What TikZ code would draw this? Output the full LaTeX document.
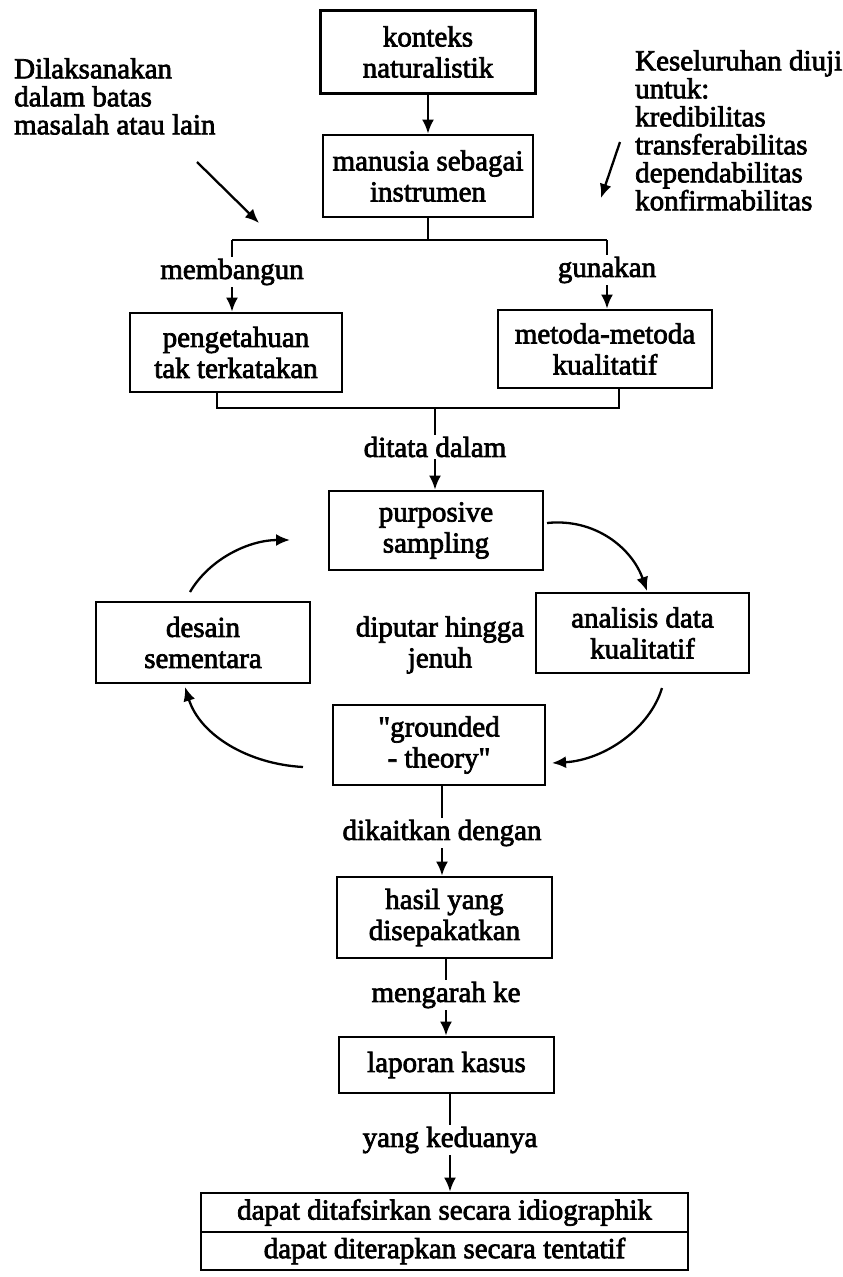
\documentclass[tikz,border=0pt]{standalone}
\usepackage{fontspec}
\setmainfont{Liberation Serif}[Ligatures=TeXOff, FakeBold=2.5]
\usetikzlibrary{arrows.meta,calc}

\begin{document}
\begin{tikzpicture}[x=1pt,y=-1pt,
  every node/.style={font=\fontsize{29}{31}\selectfont},
  box/.style={draw, line width=2.8pt, align=center, inner sep=0pt},
  lbl/.style={inner sep=2pt, align=center},
  side/.style={anchor=north west, inner sep=0pt, align=left,
               font=\fontsize{29}{28}\selectfont},
  link/.style={line width=2.3pt},
  arr/.style={link, -{Latex[length=14pt,width=12pt]}},
]
\useasboundingbox (0,0) rectangle (843,1277);

% main boxes
\node[box, minimum width=215pt, minimum height=83pt] (b1) at (428,52) {konteks\\naturalistik};
\node[box, minimum width=210pt, minimum height=82pt] (b2) at (428,176) {manusia sebagai\\instrumen};
\node[box, minimum width=212pt, minimum height=79pt] (b3) at (236,352.5) {pengetahuan\\tak terkatakan};
\node[box, minimum width=214pt, minimum height=78pt] (b4) at (605,349) {metoda-metoda\\kualitatif};
\node[box, minimum width=214pt, minimum height=79pt] (b5) at (436,530.5) {purposive\\sampling};
\node[box, minimum width=214pt, minimum height=81pt] (b6) at (203,642.5) {desain\\sementara};
\node[box, minimum width=213pt, minimum height=80pt] (b7) at (642.5,633) {analisis data\\kualitatif};
\node[box, minimum width=212pt, minimum height=80pt] (b8) at (439,745) {"grounded\\- theory"};
\node[box, minimum width=215pt, minimum height=81pt] (b9) at (444.5,917.5) {hasil yang\\disepakatkan};
\node[box, minimum width=215pt, minimum height=56pt] (b10) at (446.5,1065) {laporan kasus};
\node[box, minimum width=487pt, minimum height=39pt] (b11a) at (444.5,1212.5) {dapat ditafsirkan secara idiographik};
\node[box, minimum width=487pt, minimum height=38pt] (b11b) at (444.5,1251) {dapat diterapkan secara tentatif};

% side notes
\node[side] (lt) at (14,58) {Dilaksanakan\\dalam batas\\masalah atau lain};
\node[side] (rt) at (635,50) {Keseluruhan diuji\\untuk:\\kredibilitas\\transferabilitas\\dependabilitas\\konfirmabilitas};
\coordinate (dl1) at (197,162);
\coordinate (dl2) at (259,223);
\coordinate (dr1) at (620,142);
\coordinate (dr2) at (601,198);
\draw[arr] (dl1) -- (dl2);
\draw[arr] (dr1) -- (dr2);

% top flow
\draw[arr] (b1) -- (b2);
\coordinate (spL) at (232,240);
\coordinate (spR) at (607,240);
\draw[link] (b2.south) -- (b2.south |- spL);
\draw[link] (spL) -- (spR);
\node[lbl] (lm) at (232,272) {membangun};
\node[lbl] (lg) at (607,270) {gunakan};
\draw[link] (spL) -- (lm.north);
\draw[arr] (lm.south) -- (lm.south |- b3.north);
\draw[link] (spR) -- (lg.north);
\draw[arr] (lg.south) -- (lg.south |- b4.north);

% merge into sampling
\coordinate (mL) at (217,408);
\coordinate (mR) at (619,408);
\draw[link] (b3.south -| mL) -- (mL) -- (mR) -- (b4.south -| mR);
\node[lbl] (ld) at (435,447) {ditata dalam};
\draw[link] (ld.north |- mL) -- (ld.north);
\draw[arr] (ld.south) -- (ld.south |- b5.north);

% cycle
\node[lbl] (dj) at (440,645) {diputar hingga\\jenuh};
\coordinate (c1s) at (547,523);
\coordinate (c1e) at (647,591);
\coordinate (c2s) at (662,688);
\coordinate (c2e) at (552,763);
\coordinate (c3s) at (303,767);
\coordinate (c3e) at (185,687);
\coordinate (c4s) at (190,592);
\coordinate (c4e) at (290,540);
\draw[arr] (c1s) .. controls (595,518) and (632,548) .. (c1e);
\draw[arr] (c2s) .. controls (650,728) and (605,760) .. (c2e);
\draw[arr] (c3s) .. controls (248,764) and (200,735) .. (c3e);
\draw[arr] (c4s) .. controls (210,558) and (250,540) .. (c4e);

% lower flow
\node[lbl] (lk) at (442,833) {dikaitkan dengan};
\draw[link] (b8.south -| lk) -- (lk.north);
\draw[arr] (lk.south) -- (lk.south |- b9.north);
\node[lbl] (lme) at (446,995) {mengarah ke};
\draw[link] (b9.south -| lme) -- (lme.north);
\draw[arr] (lme.south) -- (lme.south |- b10.north);
\node[lbl] (ly) at (450,1140) {yang keduanya};
\draw[link] (b10.south -| ly) -- (ly.north);
\draw[arr] (ly.south) -- (ly.south |- b11a.north);
\end{tikzpicture}
\end{document}
